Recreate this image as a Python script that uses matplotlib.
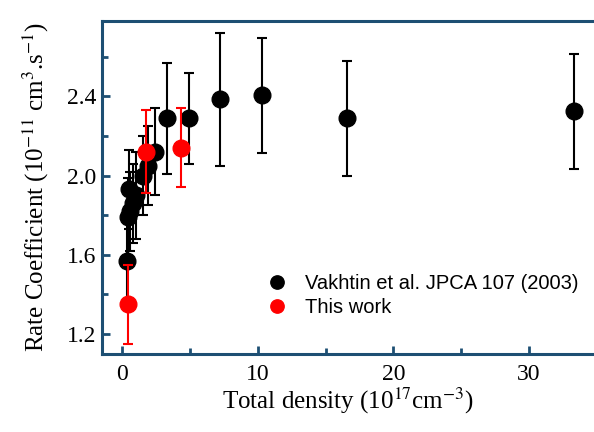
import matplotlib
matplotlib.use("Agg")
import matplotlib.pyplot as plt
from matplotlib.ticker import MultipleLocator

plt.rcParams["font.family"] = ["Liberation Serif", "DejaVu Serif"]
plt.rcParams["mathtext.fontset"] = "stix"

# Vakhtin et al. JPCA 107 (2003)
vak_x = [0.35, 0.4, 0.55, 0.8, 0.5, 1.0, 1.5, 1.9, 2.4, 3.3, 4.9, 7.2, 10.3, 16.6, 33.3]
vak_y = [1.57, 1.79, 1.82, 1.86, 1.93, 1.90, 2.00, 2.05, 2.12, 2.29, 2.29, 2.385, 2.405, 2.29, 2.325]
vak_err = [0.2, 0.2, 0.2, 0.2, 0.2, 0.22, 0.2, 0.2, 0.22, 0.28, 0.23, 0.335, 0.29, 0.29, 0.29]

# this work
tw_x = [0.44, 1.7, 4.3]
tw_y = [1.35, 2.12, 2.14]
tw_err = [0.2, 0.21, 0.2]

frame = "#1d4f73"
serif = "Liberation Serif"

fig = plt.figure(figsize=(5.94, 4.32), dpi=100)
ax = fig.add_axes([0.172, 0.181, 0.828, 0.770])

ax.errorbar(vak_x, vak_y, yerr=vak_err, fmt="none", ecolor="black",
            elinewidth=1.5, capsize=3.5, capthick=1.5, zorder=2)
ax.plot(vak_x, vak_y, "o", color="black", markersize=12, zorder=3,
        label="Vakhtin et al. JPCA 107 (2003)")
ax.errorbar(tw_x, tw_y, yerr=tw_err, fmt="none", ecolor="red",
            elinewidth=1.5, capsize=3.5, capthick=1.5, zorder=4)
ax.plot(tw_x, tw_y, "o", color="red", markersize=12, zorder=5,
        label="This work")

ax.set_xlim(-1.5, 34.8)
ax.set_ylim(1.10, 2.78)
ax.xaxis.set_major_locator(MultipleLocator(10))
ax.xaxis.set_minor_locator(MultipleLocator(5))
ax.yaxis.set_major_locator(MultipleLocator(0.4))
ax.yaxis.set_minor_locator(MultipleLocator(0.2))
ax.yaxis.set_major_formatter(plt.FuncFormatter(lambda v, p: f"{v:.1f}"))

for side in ["left", "top", "bottom"]:
    ax.spines[side].set_color(frame)
    ax.spines[side].set_linewidth(2.2)
ax.spines["right"].set_visible(False)

ax.tick_params(which="both", direction="in", color=frame, width=2,
               labelsize=17, labelfontfamily=serif, top=False, right=False)
ax.tick_params(which="major", length=6)
ax.tick_params(which="minor", length=4)
ax.tick_params(axis="x", pad=7)
ax.tick_params(axis="y", pad=4)

ax.set_xlabel("Total density (10$^{17}$cm$^{-3}$)", fontsize=18, labelpad=1)
ax.set_ylabel("Rate Coefficient (10$^{-11}$ cm$^{3}$.s$^{-1}$)", fontsize=18,
              labelpad=12)

leg = ax.legend(loc="center left", bbox_to_anchor=(0.335, 0.174), frameon=False,
                prop={"family": "Liberation Sans", "size": 14.5},
                handletextpad=0.9, borderaxespad=0, borderpad=0,
                labelspacing=0.25, handlelength=1.0, markerscale=0.8)

fig.savefig("out.png", dpi=100)
